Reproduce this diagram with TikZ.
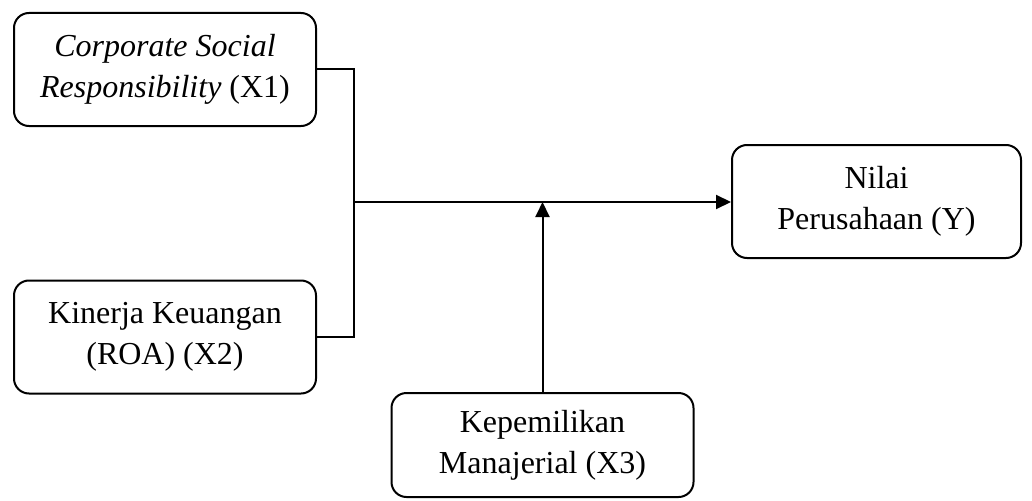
\documentclass[tikz,border=0pt]{standalone}
\usepackage{fontspec}
\setmainfont{Liberation Serif}
\usetikzlibrary{positioning}
\usetikzlibrary{arrows.meta}

\begin{document}
\begin{tikzpicture}[x=1pt, y=1pt, line width=2pt,
    var/.style = {draw, rounded corners=15pt, minimum width=302pt, minimum height=113pt, align=center, font=\fontsize{32}{41}\selectfont},
    flow/.style = {-{Triangle[length=15pt, width=14pt]}}]
          \useasboundingbox (0,0) rectangle (1032,-500);
          \node[var](x1) at (165,-69.5) {\textit{Corporate Social}\\\textit{Responsibility} (X1)};
          \node[var](x2) at (165,-337) {Kinerja Keuangan\\(ROA) (X2)};
          \node[var, minimum width=289pt](y) at (876.5,-201.5) {Nilai\\Perusahaan (Y)};
          \node[var, minimum height=104pt](x3) at (542.5,-445) {Kepemilikan\\Manajerial (X3)};
          \coordinate (join) at (354,-202);
          \coordinate (meet) at (x3.north |- join);
          \draw (x1.east) -- (x1.east -| join) -- (x2.east -| join) -- (x2.east);
          \draw[flow] (join) -- (join -| y.west);
          \draw[flow] (x3.north) -- (meet);
        \end{tikzpicture}
\end{document}
